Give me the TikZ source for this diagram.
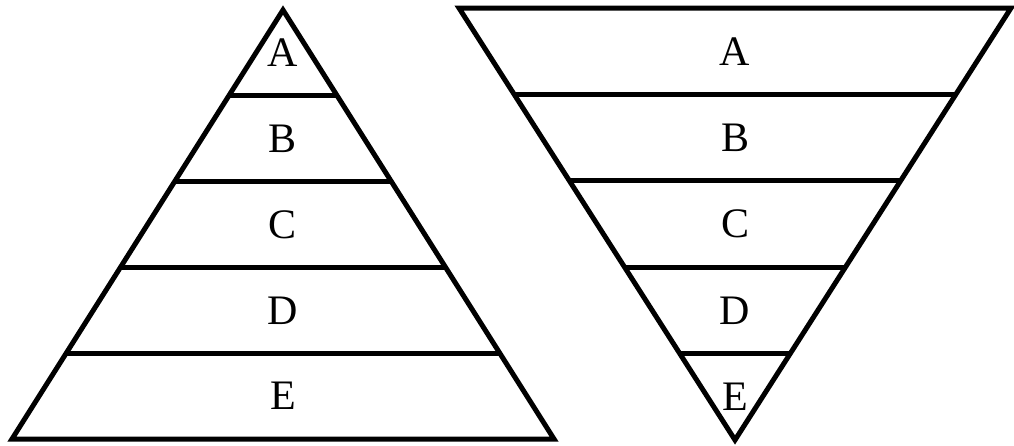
\documentclass[tikz,border=0pt]{standalone}
\usepackage{fontspec}
\setmainfont{Liberation Serif}
\usetikzlibrary{calc}

\begin{document}
\begin{tikzpicture}[x=1pt, y=-1pt, line width=5pt,
  band/.style={inner sep=0pt, font=\fontsize{42}{44}\selectfont}]

  \useasboundingbox (0,0) rectangle (1014,445);

  % --- upright pyramid, cut into five bands ----------------------------------
  \coordinate (lapex)  at (283,10);
  \coordinate (lleft)  at (12,439);
  \coordinate (lright) at (554,439);
  \coordinate (lmid)   at (283,439);
  \draw (lapex) -- (lright) -- (lleft) -- cycle;
  \draw ($(lapex)!0.2!(lleft)$) -- ($(lapex)!0.2!(lright)$);
  \draw ($(lapex)!0.4!(lleft)$) -- ($(lapex)!0.4!(lright)$);
  \draw ($(lapex)!0.6!(lleft)$) -- ($(lapex)!0.6!(lright)$);
  \draw ($(lapex)!0.8!(lleft)$) -- ($(lapex)!0.8!(lright)$);

  \node[band] (la) at ($(lapex)!0.1!(lmid)$) {A};
  \node[band] (lb) at ($(lapex)!0.3!(lmid)$) {B};
  \node[band] (lc) at ($(lapex)!0.5!(lmid)$) {C};
  \node[band] (ld) at ($(lapex)!0.7!(lmid)$) {D};
  \node[band] (le) at ($(lapex)!0.9!(lmid)$) {E};

  % --- inverted pyramid, same five bands -------------------------------------
  \coordinate (rtip)   at (735,440);
  \coordinate (rleft)  at (459,8);
  \coordinate (rright) at (1011,8);
  \coordinate (rmid)   at (735,8);
  \draw (rtip) -- (rleft) -- (rright) -- cycle;
  \draw ($(rleft)!0.2!(rtip)$) -- ($(rright)!0.2!(rtip)$);
  \draw ($(rleft)!0.4!(rtip)$) -- ($(rright)!0.4!(rtip)$);
  \draw ($(rleft)!0.6!(rtip)$) -- ($(rright)!0.6!(rtip)$);
  \draw ($(rleft)!0.8!(rtip)$) -- ($(rright)!0.8!(rtip)$);

  \node[band] (ra) at ($(rmid)!0.1!(rtip)$) {A};
  \node[band] (rb) at ($(rmid)!0.3!(rtip)$) {B};
  \node[band] (rc) at ($(rmid)!0.5!(rtip)$) {C};
  \node[band] (rd) at ($(rmid)!0.7!(rtip)$) {D};
  \node[band] (re) at ($(rmid)!0.9!(rtip)$) {E};

\end{tikzpicture}
\end{document}
